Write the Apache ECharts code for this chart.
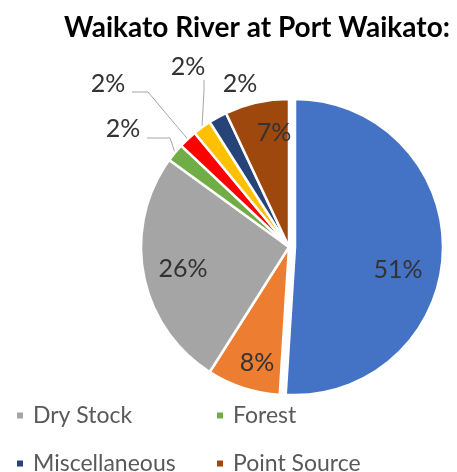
<!DOCTYPE html>
<html><head><meta charset="utf-8">
<script src="https://cdn.jsdelivr.net/npm/echarts@6/dist/echarts.min.js"></script>
<style>html,body{margin:0;padding:0;background:#fff}#c{width:457px;height:472px}</style>
</head><body><div id="c"></div>
<script>
// ---- data ----
const chartTitle = 'Waikato River at Port Waikato:';
const categories = ['Dairy', 'Horticulture', 'Dry Stock', 'Forest', 'Urban', 'Other', 'Miscellaneous', 'Point Source'];
const values = [51, 8, 26, 2, 2, 2, 2, 7];
const legendItems = ['Dry Stock', 'Forest', 'Miscellaneous', 'Point Source'];

// ---- styles ----
const colors = ['#4472C4', '#ED7D31', '#A5A5A5', '#70AD47', '#FF0000', '#FFC000', '#264478', '#9E480E'];
const FONT = 'Lato';
const exploded = 0;            // index of the slice pulled out of the pie
const pieCenter = [289, 247];
const explodeShift = [6, 0];
// label text centres (annotation placement) and leader-line bends
const labelPos = [[398, 270], [257, 363], [183, 269], [123, 129], [108, 84], [188, 67], [240, 84], [274, 133]];
const leader = {
  3: { start: [147, 138], bend: [170, 138] },
  4: { start: [132, 92], bend: [148, 92] },
  5: { start: [204, 80], bend: [204, 90] }
};
const outside = [3, 4, 5, 6];
const legendSlots = [[15, 404], [215, 404], [15, 452], [215, 452]];

const chart = echarts.init(document.getElementById('c'), null, { renderer: 'canvas' });

function makeData(showExploded) {
  return categories.map((name, i) => {
    const visible = (i === exploded) === showExploded;
    return {
      name, value: values[i],
      itemStyle: { color: colors[i], opacity: visible ? 1 : 0 },
      label: { show: visible, position: outside.includes(i) ? 'outside' : 'inside' },
      labelLine: { show: visible && leader[i] !== undefined }
    };
  });
}

function labelLayout(p) {
  const i = p.dataIndex;
  const pos = labelPos[i];
  const res = { x: pos[0], y: pos[1], align: 'center', verticalAlign: 'middle' };
  if (leader[i] && p.labelLinePoints) {
    const edge = p.labelLinePoints[0];
    res.labelLinePoints = [edge, leader[i].bend, leader[i].start];
  }
  return res;
}

const baseSeries = {
  type: 'pie',
  radius: 148,
  startAngle: 90,
  clockwise: true,
  silent: true,
  emphasis: { disabled: true },
  avoidLabelOverlap: false,
  itemStyle: { borderColor: '#fff', borderWidth: 2.5 },
  label: {
    show: true, formatter: '{d}%',
    fontFamily: FONT, fontSize: 25, color: '#333'
  },
  labelLine: { lineStyle: { color: '#A6A6A6', width: 1 }, length: 10, length2: 10 },
  labelLayout
};

chart.setOption({
  animation: false,
  backgroundColor: '#fff',
  title: {
    text: chartTitle, left: 59, top: 9,
    textStyle: { fontFamily: FONT, fontWeight: 'bold', fontSize: 28, color: '#000' }
  },
  legend: legendItems.map((name, k) => ({
    data: [name], orient: 'horizontal', left: legendSlots[k][0], top: legendSlots[k][1], padding: 0,
    icon: 'rect', itemWidth: 8, itemHeight: 8,
    textStyle: { fontFamily: FONT, fontSize: 23, color: '#595959', padding: [0, 0, 0, 4] },
    selectedMode: false
  })),
  series: [
    Object.assign({}, baseSeries, { name: 'main', center: pieCenter, data: makeData(false) }),
    Object.assign({}, baseSeries, {
      name: 'exploded',
      center: [pieCenter[0] + explodeShift[0], pieCenter[1] + explodeShift[1]],
      data: makeData(true)
    })
  ]
});
</script></body></html>
